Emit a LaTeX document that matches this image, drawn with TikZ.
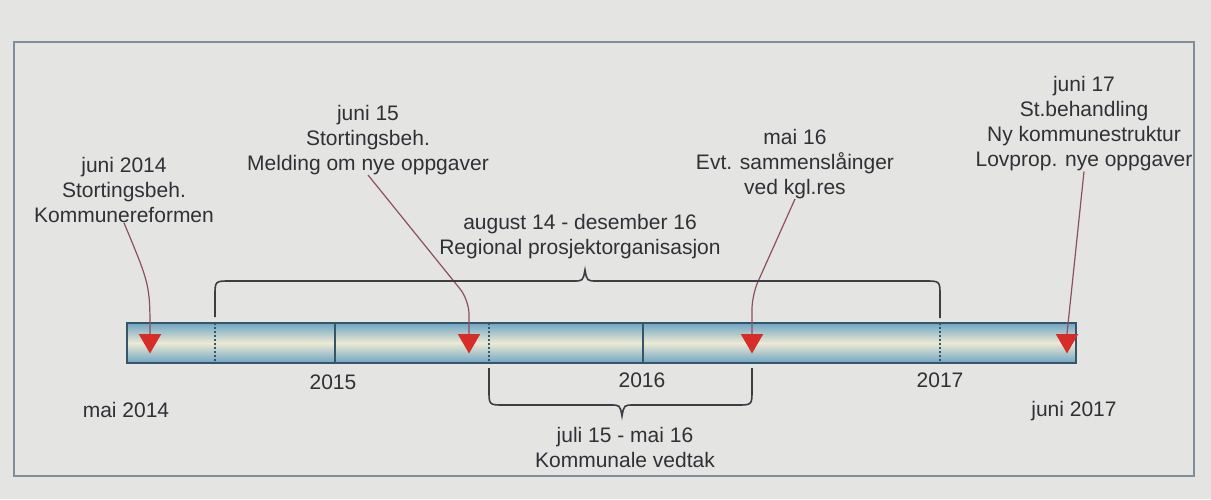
\documentclass[tikz,border=0pt]{standalone}
\usepackage{fontspec}
\setmainfont{Liberation Sans}
\usetikzlibrary{shapes.geometric}
\definecolor{bgc}{RGB}{228,228,226}
\definecolor{framec}{RGB}{128,142,156}
\definecolor{txt}{RGB}{48,48,54}
\definecolor{barblue}{RGB}{110,165,195}
\definecolor{barmid}{RGB}{236,233,212}
\definecolor{barline}{RGB}{55,85,105}
\definecolor{mkred}{RGB}{215,45,40}
\definecolor{conn}{RGB}{140,80,95}
\definecolor{bracec}{RGB}{60,62,68}
\tikzset{
  lbl/.style={text=txt, align=center, inner sep=0pt, font=\fontsize{21}{25}\selectfont},
  marker/.style={regular polygon, regular polygon sides=3, shape border rotate=180,
     minimum size=26pt, inner sep=0pt, fill=mkred, draw=none},
  connector/.style={draw=conn, line width=1.2pt},
  bracepath/.style={draw=bracec, line width=1.6pt},
  tick/.style={draw=barline, line width=1.2pt},
  dottick/.style={draw=barline, line width=1.2pt, dash pattern=on 2pt off 2pt}
}
\begin{document}
\begin{tikzpicture}[x=1pt,y=-1pt]
\useasboundingbox (0,0) rectangle (1211,499);
\fill[bgc] (0,0) rectangle (1211,499);
\draw[framec, line width=2.5pt] (14,42) rectangle (1194,476);

% bar
\node[draw=barline, line width=1.2pt, minimum width=949pt, minimum height=40pt,
  top color=barblue, bottom color=barblue, middle color=barmid, inner sep=0pt]
  (bar) at (601.5,343) {};
\draw[dottick] (215,323) -- (215,363);
\draw[tick] (335,323) -- (335,363);
\draw[dottick] (489,323) -- (489,363);
\draw[tick] (643,323) -- (643,363);
\draw[dottick] (940,323) -- (940,363);

% markers
\node[marker] (m1) at (150,340.5) {};
\node[marker] (m2) at (469,340.5) {};
\node[marker] (m3) at (752,340.5) {};
\node[marker] (m4) at (1067,340.5) {};

% labels above
\node[lbl] (t1) at (124,190) {juni 2014\\Stortingsbeh.\\Kommunereformen};
\node[lbl] (t2) at (368,140) {juni 15\\Stortingsbeh.\\Melding om nye oppgaver};
\node[lbl] (t3) at (795,164) {mai 16\\Evt. sammensl\r{a}inger\\ved kgl.res};
\node[lbl] (t4) at (1084,124) {juni 17\\St.behandling\\Ny kommunestruktur\\Lovprop. nye oppgaver};

% connectors
\draw[connector] (t1.south) .. controls (150,285) .. (m1.north);
\draw[connector, rounded corners=14pt] (t2.south) -- (469,300) -- (m2.north);
\draw[connector, rounded corners=14pt] (t3.south) -- (752,295) -- (m3.north);
\draw[connector] (t4.south) -- (m4.north);

% upper brace
\draw[bracepath] (215,317) -- (215,296) .. controls (215,281) .. (230,281) -- (573,281)
  .. controls (583,281) .. (585,270) .. controls (587,281) .. (597,281) -- (925,281)
  .. controls (940,281) .. (940,296) -- (940,318);
\node[lbl] (b1) at (580,237) {august 14 - desember 16\\Regional prosjektorganisasjon};

% lower brace
\draw[bracepath] (489,368) -- (489,390) .. controls (489,405) .. (504,405) -- (610,405)
  .. controls (620,405) .. (622,416) .. controls (624,405) .. (634,405) -- (737,405)
  .. controls (752,405) .. (752,390) -- (752,368);
\node[lbl] (b2) at (625,447) {juli 15 - mai 16\\Kommunale vedtak};

% years
\node[lbl] (y15) at (333,382) {2015};
\node[lbl] (y16) at (642,380) {2016};
\node[lbl] (y17) at (940,380) {2017};
\node[lbl] (s) at (126,410) {mai 2014};
\node[lbl] (e) at (1074,411) {juni 2017};
\end{tikzpicture}
\end{document}
